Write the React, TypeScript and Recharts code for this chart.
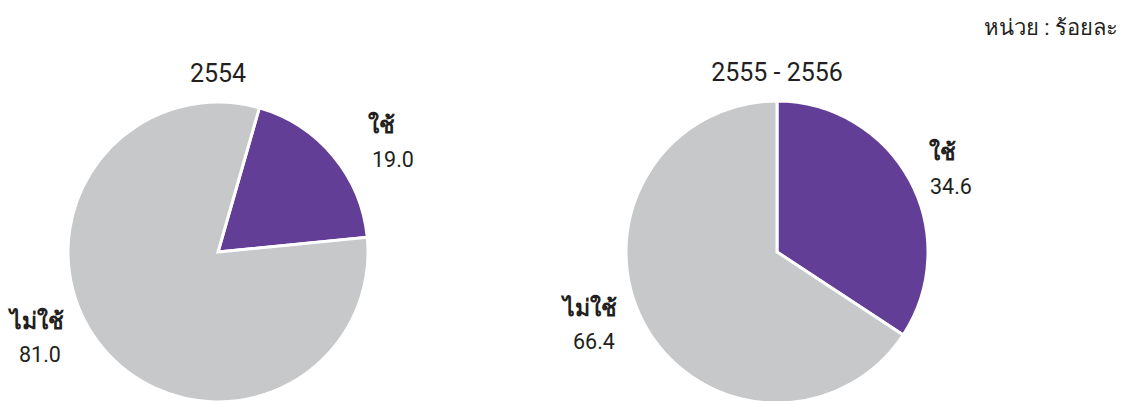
import React from "react";
import { PieChart, Pie, Cell } from "recharts";

const categories = ["ใช้", "ไม่ใช้"];
const values2554 = [19.0, 81.0];
const values2555 = [34.6, 66.4];
const titles = ["2554", "2555 - 2556"];
const unitText = "หน่วย : ร้อยละ";

const COLORS = ["#633E97", "#C7C8CA"];
const FONT = "Roboto, 'Noto Sans', 'DejaVu Sans', sans-serif";
const TEXT = "#231F20";

const data2554 = categories.map((name, i) => ({ name, value: values2554[i] }));
const data2555 = categories.map((name, i) => ({ name, value: values2555[i] }));

// label offsets relative to pie centre (layout, not data)
type Off = { nx: number; ny: number; vx: number; vy: number };
const labelOffsets2554: Off[] = [
  { nx: 150, ny: -119, vx: 154, vy: -85 },
  { nx: -208, ny: 77, vx: -199, vy: 110 },
];
const labelOffsets2555: Off[] = [
  { nx: 152, ny: -92, vx: 153, vy: -58 },
  { nx: -214, ny: 64, vx: -204, vy: 97 },
];

const makeLabel = (offsets: Off[]) => (props: any) => {
  const { cx, cy, index, name, value } = props;
  const o = offsets[index];
  return (
    <g key={`lbl-${index}`}>
      <text x={cx + o.nx} y={cy + o.ny} textAnchor="start" fontFamily={FONT} fontWeight="bold" fontSize={23} fill={TEXT}>
        {name}
      </text>
      <text x={cx + o.vx} y={cy + o.vy} textAnchor="start" fontFamily={FONT} fontSize={21.5} fill={TEXT}>
        {Number(value).toFixed(1)}
      </text>
    </g>
  );
};

export default function App() {
  return (
    <div style={{ position: "absolute", left: 0, top: 0, width: 1132, height: 401, background: "#fff" }}>
      <PieChart width={1132} height={401} margin={{ top: 0, right: 0, bottom: 0, left: 0 }}>
        <Pie
          data={data2554}
          dataKey="value"
          nameKey="name"
          cx={218}
          cy={252}
          outerRadius={150}
          startAngle={74}
          endAngle={-286}
          stroke="#fff"
          strokeWidth={3}
          isAnimationActive={false}
          label={makeLabel(labelOffsets2554)}
          labelLine={false}
        >
          {data2554.map((d, i) => (
            <Cell key={d.name} fill={COLORS[i]} />
          ))}
        </Pie>
        <Pie
          data={data2555}
          dataKey="value"
          nameKey="name"
          cx={777}
          cy={252}
          outerRadius={151}
          startAngle={90}
          endAngle={-270}
          stroke="#fff"
          strokeWidth={3}
          isAnimationActive={false}
          label={makeLabel(labelOffsets2555)}
          labelLine={false}
        >
          {data2555.map((d, i) => (
            <Cell key={d.name} fill={COLORS[i]} />
          ))}
        </Pie>
      </PieChart>
      <svg width={1132} height={401} style={{ position: "absolute", left: 0, top: 0, pointerEvents: "none" }}>
        <text x={218} y={82} textAnchor="middle" fontFamily={FONT} fontSize={25} fill={TEXT}>
          {titles[0]}
        </text>
        <text x={777} y={81} textAnchor="middle" fontFamily={FONT} fontSize={25} fill={TEXT}>
          {titles[1]}
        </text>
        <text x={1118} y={35} textAnchor="end" fontFamily={FONT} fontSize={22} fill={TEXT}>
          {unitText}
        </text>
      </svg>
    </div>
  );
}
